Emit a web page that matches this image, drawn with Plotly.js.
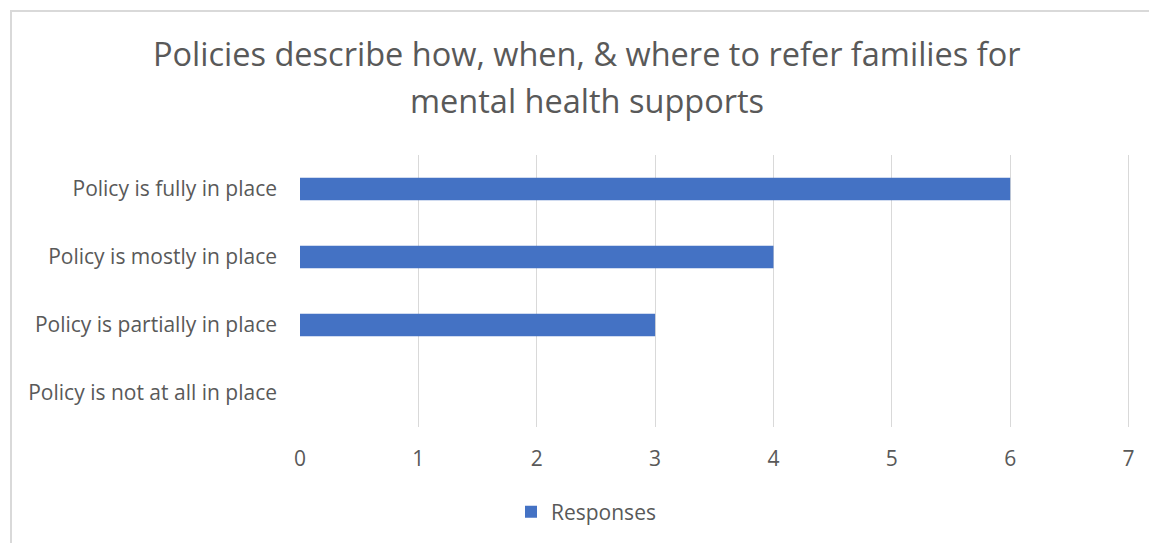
<!DOCTYPE html>
<html><head><meta charset="utf-8">
<script src="https://cdn.plot.ly/plotly-3.0.1.min.js"></script>
<style>
html,body{margin:0;padding:0;background:#fff;}
#wrap{position:relative;width:1149px;height:543px;overflow:hidden;}
#chart{position:absolute;left:0;top:0;width:1149px;height:543px;}
#frame{position:absolute;left:10px;top:10px;width:1200px;height:600px;border-top:2px solid #d9d9d9;border-left:2px solid #d9d9d9;pointer-events:none;}
</style></head>
<body><div id="wrap"><div id="chart"></div><div id="frame"></div></div>
<script>
const categories = ["Policy is fully in place","Policy is mostly in place","Policy is partially in place","Policy is not at all in place"];
const responses = [6, 4, 3, 0];
const seriesName = "Responses";
const xTicks = [0,1,2,3,4,5,6,7];
const titleLines = ["Policies describe how, when, & where to refer families for", "mental health supports"];

const FONT = "Open Sans, Lato, sans-serif";
const GREY = "#595959";
Plotly.newPlot("chart", [{
  type: "bar", orientation: "h",
  x: responses, y: categories, name: seriesName,
  marker: {color: "#4472C4"}, width: 0.33,
  showlegend: true, hoverinfo: "x+y"
}], {
  width: 1149, height: 543,
  margin: {l: 300, r: 19, t: 155, b: 116, pad: 0, autoexpand: false},
  paper_bgcolor: "rgba(0,0,0,0)", plot_bgcolor: "rgba(0,0,0,0)",
  font: {family: FONT, color: GREY},
  annotations: [
    {text: titleLines[0], xref: "paper", yref: "paper", x: (587-300)/830, y: 1 + (155-53)/272,
     xanchor: "center", yanchor: "middle", showarrow: false, font: {family: FONT, size: 32.5, color: GREY}},
    {text: titleLines[1], xref: "paper", yref: "paper", x: (587-300)/830, y: 1 + (155-100)/272,
     xanchor: "center", yanchor: "middle", showarrow: false, font: {family: FONT, size: 32.5, color: GREY}}
  ],
  xaxis: {range: [0, 7.012], tickvals: xTicks, showgrid: true, gridcolor: "#d9d9d9", gridwidth: 1, automargin: false,
          zeroline: false, showline: false, ticks: "", tickfont: {size: 21, color: GREY}, ticklabelstandoff: 17, fixedrange: true},
  yaxis: {type: "category", categoryorder: "array", categoryarray: categories, autorange: "reversed", automargin: false,
          showgrid: false, zeroline: false, showline: false, ticks: "", tickfont: {size: 21, color: GREY}, ticklabelstandoff: 22},
  legend: {orientation: "h", xref: "container", x: 511/1149, xanchor: "left", y: -85/272, yanchor: "middle",
           font: {size: 21, color: GREY}},
  bargap: 0.67
}, {displayModeBar: false, staticPlot: true});
</script></body></html>
